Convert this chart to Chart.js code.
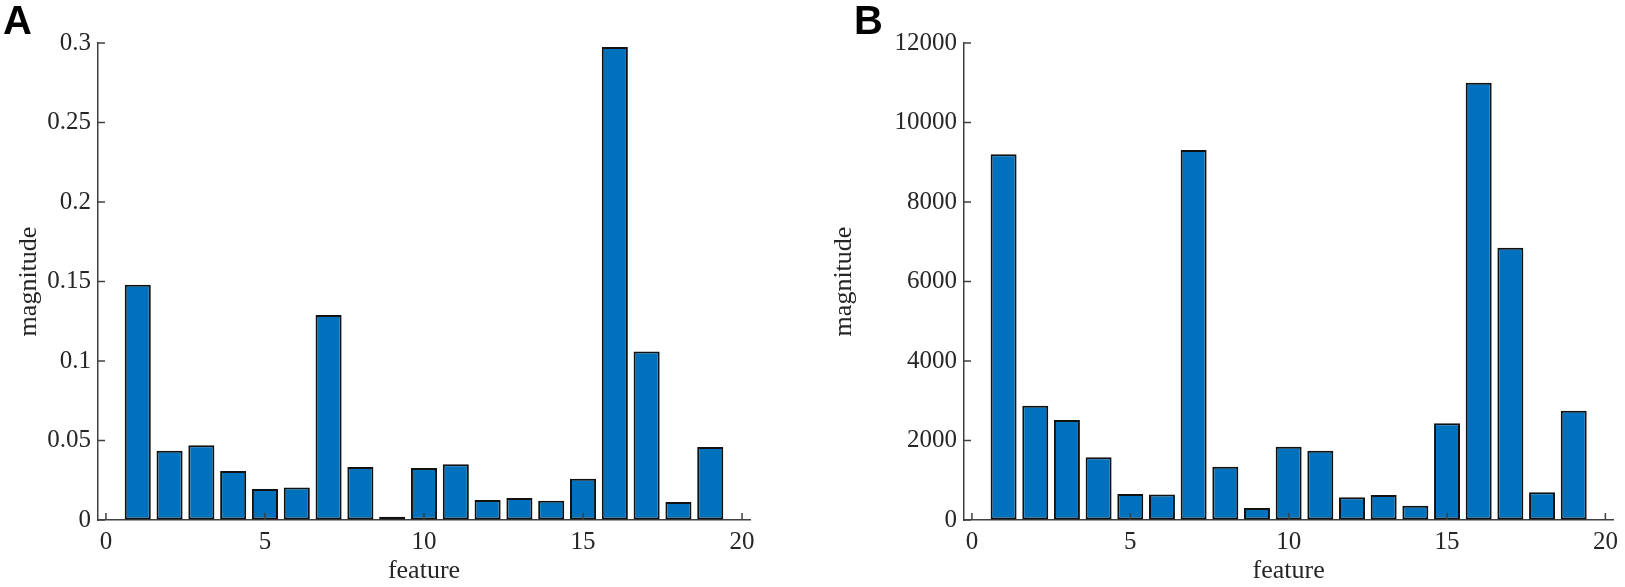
<!DOCTYPE html>
<html>
<head>
<meta charset="utf-8">
<script src="https://cdn.jsdelivr.net/npm/chart.js@4.4.1/dist/chart.umd.min.js"></script>
<style>
  body { margin:0; background:#fff; }
  #wrap { position:relative; width:1625px; height:587px; overflow:hidden; }
  canvas { position:absolute; top:0; }
  .tag { position:absolute; top:0; font:bold 40px "Liberation Sans", Arial, sans-serif; line-height:40px; color:#000; }
</style>
</head>
<body>
<div id="wrap">
  <canvas id="chartA" width="812" height="587" style="left:0"></canvas>
  <canvas id="chartB" width="813" height="587" style="left:812px"></canvas>
  <div class="tag" style="left:3px">A</div>
  <div class="tag" style="left:854px">B</div>
</div>
<script>
const features = [1,2,3,4,5,6,7,8,9,10,11,12,13,14,15,16,17,18,19];
const valuesA = [0.148,0.0436,0.047,0.0308,0.0195,0.0205,0.129,0.0333,0.002,0.0327,0.035,0.0126,0.0138,0.0121,0.026,0.2975,0.106,0.0113,0.0459];
const valuesB = [9200,2875,2515,1580,655,640,9310,1342,300,1845,1740,575,628,360,2432,11000,6850,700,2750];
const xTicks = [0,5,10,15,20];
const yTicksA = [0,0.05,0.1,0.15,0.2,0.25,0.3];
const yTicksB = [0,2000,4000,6000,8000,10000,12000];
const yLabelsA = ['0','0.05','0.1','0.15','0.2','0.25','0.3'];
const yLabelsB = ['0','2000','4000','6000','8000','10000','12000'];

const axisColor = '#404040';
const textColor = '#262626';
const serif = '"Liberation Serif", "Times New Roman", serif';

// MATLAB style ticks point into the plot area
const inwardTicks = {
  id:'inwardTicks',
  afterDatasetsDraw(chart) {
    const ctx = chart.ctx, area = chart.chartArea;
    const x = chart.scales.x, y = chart.scales.y;
    ctx.save();
    ctx.strokeStyle = axisColor;
    ctx.lineWidth = 1.5;
    ctx.beginPath();
    x.ticks.forEach(t => {
      const px = x.getPixelForValue(t.value);
      ctx.moveTo(px, area.bottom); ctx.lineTo(px, area.bottom - 7);
    });
    y.ticks.forEach(t => {
      const py = y.getPixelForValue(t.value);
      ctx.moveTo(area.left, py); ctx.lineTo(area.left + 7, py);
    });
    ctx.stroke();
    ctx.restore();
  }
};

function makeChart(id, values, yTicks, yLabels, yMax, yWidth, rightPad, titlePad) {
  const ctx = document.getElementById(id).getContext('2d');
  return new Chart(ctx, {
    type:'bar',
    data:{ datasets:[{
      data: features.map((f,i) => ({x:f, y:values[i]})),
      backgroundColor:'#0072BD', borderColor:'#111111', borderWidth:2, borderSkipped:false,
      barPercentage:0.82, categoryPercentage:1.0
    }]},
    options:{
      responsive:false, animation:false,
      layout:{ padding:{ top:43, right:rightPad, bottom:0, left:0 } },
      plugins:{ legend:{display:false}, tooltip:{enabled:false} },
      scales:{
        x:{
          type:'linear', offset:false, min:-0.25, max:20.25,
          afterBuildTicks: s => { s.ticks = xTicks.map(v => ({value:v})); },
          afterFit: s => { s.height = 67; },
          grid:{ display:true, drawOnChartArea:false, drawTicks:false },
          border:{ color:axisColor, width:1.5 },
          ticks:{ padding:7, color:textColor, font:{family:serif, size:25}, maxRotation:0,
                  callback: v => String(v) },
          title:{ display:true, text:'feature', color:textColor, padding:{top:0,bottom:0},
                  font:{family:serif, size:26, lineHeight:1.2} }
        },
        y:{
          min:0, max:yMax,
          afterBuildTicks: s => { s.ticks = yTicks.map(v => ({value:v})); },
          afterFit: s => { s.width = yWidth; },
          grid:{ display:true, drawOnChartArea:false, drawTicks:false },
          border:{ color:axisColor, width:1.5 },
          ticks:{ padding:7, color:textColor, font:{family:serif, size:25},
                  callback: (v, i) => yLabels[i] },
          title:{ display:true, text:'magnitude', color:textColor, padding:{top:titlePad,bottom:0},
                  font:{family:serif, size:26, lineHeight:1.2} }
        }
      }
    },
    plugins:[inwardTicks]
  });
}

makeChart('chartA', valuesA, yTicksA, yLabelsA, 0.3, 98, 62, 14);
makeChart('chartB', valuesB, yTicksB, yLabelsB, 12000, 152, 9, 17);
</script>
</body>
</html>
